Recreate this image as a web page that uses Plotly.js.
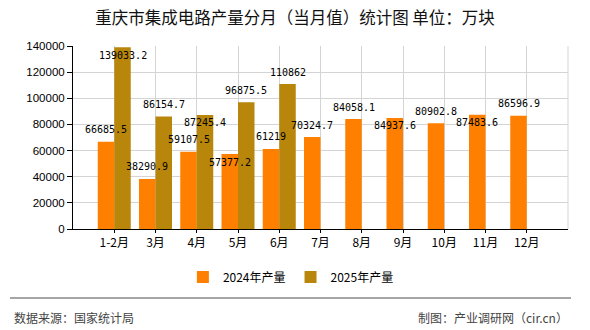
<!DOCTYPE html>
<html>
<head>
<meta charset="utf-8">
<script src="https://cdn.plot.ly/plotly-3.0.1.min.js"></script>
<style>html,body{margin:0;padding:0;background:#fff;}#chart{width:590px;height:330px;}</style>
</head>
<body>
<div id="chart"></div>
<script>
const months = ["1-2月","3月","4月","5月","6月","7月","8月","9月","10月","11月","12月"];
const output2024 = [66685.5, 38290.9, 59107.5, 57377.2, 61219, 70324.7, 84058.1, 84937.6, 80902.8, 87483.6, 86596.9];
const output2025 = [139033.2, 86154.7, 87245.4, 96875.5, 110862];
const yTicks = [0, 20000, 40000, 60000, 80000, 100000, 120000, 140000];

// label placement style: 1 = above bar top, 0 = slightly below bar top
const place2024 = [1,1,1,0,1,1,1,0,1,0,1];
const place2025 = [0,1,0,1,1];

const c2024 = '#FF8000';
const c2025 = '#B8860B';
const labelFont = {family: 'DejaVu Sans Mono, Liberation Mono, monospace', size: 10, color: '#000'};

const traces = [
  {type: 'bar', name: '2024年产量', x: months, y: output2024, marker: {color: c2024}, hoverinfo: 'x+y'},
  {type: 'bar', name: '2025年产量', x: months.slice(0, output2025.length), y: output2025, marker: {color: c2025}, hoverinfo: 'x+y'}
];

const annotations = [];
output2024.forEach((v, i) => {
  annotations.push({x: months[i], y: v, xref: 'x', yref: 'y', text: String(v), showarrow: false,
    xshift: -8.25, yshift: place2024[i] ? 12 : -8, font: labelFont});
});
output2025.forEach((v, i) => {
  annotations.push({x: months[i], y: v, xref: 'x', yref: 'y', text: String(v), showarrow: false,
    xshift: 8.25, yshift: place2025[i] ? 12 : -8, font: labelFont});
});
annotations.push({xref: 'paper', yref: 'paper', x: -0.1232, y: -0.481, xanchor: 'left', yanchor: 'middle',
  text: '数据来源：国家统计局', showarrow: false, font: {family: 'Noto Sans CJK SC', size: 12, color: '#444'}});
annotations.push({xref: 'paper', yref: 'paper', x: 1.004, y: -0.481, xanchor: 'right', yanchor: 'middle',
  text: '制图：产业调研网（cir.cn）', showarrow: false, font: {family: 'Noto Sans CJK SC', size: 12, color: '#444'}});

const layout = {
  width: 590, height: 330,
  margin: {l: 73, r: 22, t: 46, b: 101},
  paper_bgcolor: '#fff', plot_bgcolor: '#fff',
  title: {text: '重庆市集成电路产量分月（当月值）统计图 单位：万块', x: 0.5, xanchor: 'center', y: 0.945, yanchor: 'middle',
    font: {family: 'Noto Sans CJK SC', size: 16.5, color: '#111'}},
  barmode: 'group', bargap: 0.2, bargroupgap: 0,
  xaxis: {type: 'category', categoryorder: 'array', categoryarray: months, range: [-1, 11],
    showgrid: true, gridcolor: '#d4d4d4', gridwidth: 1,
    showline: true, linecolor: '#000', linewidth: 1,
    ticks: 'outside', ticklen: 3, tickcolor: '#000',
    tickfont: {family: 'Noto Sans CJK SC', size: 12, color: '#000'}, fixedrange: true},
  yaxis: {range: [0, 140000], tickvals: yTicks, ticktext: yTicks.map(String),
    showgrid: true, gridcolor: '#d4d4d4', gridwidth: 1, zeroline: false,
    showline: true, linecolor: '#000', linewidth: 1,
    ticks: 'outside', ticklen: 5, tickcolor: '#000',
    tickfont: {family: 'Liberation Sans, Arial, sans-serif', size: 11.5, color: '#000'}, fixedrange: true},
  showlegend: true,
  legend: {orientation: 'h', x: 0.222, xanchor: 'left', y: -0.262, yanchor: 'middle',
    font: {family: 'Noto Sans CJK SC', size: 12, color: '#000'}, bgcolor: 'rgba(0,0,0,0)', itemclick: false},
  shapes: [
    {type: 'line', xref: 'paper', yref: 'paper', x0: 1, x1: 1, y0: 0, y1: 1, line: {color: '#d4d4d4', width: 1}},
    {type: 'line', xref: 'paper', yref: 'paper', x0: -0.1273, x1: 1.006, y0: -0.377, y1: -0.377, line: {color: '#888', width: 1.5}}
  ],
  annotations: annotations
};

Plotly.newPlot('chart', traces, layout, {displayModeBar: false, staticPlot: true});
</script>
</body>
</html>
